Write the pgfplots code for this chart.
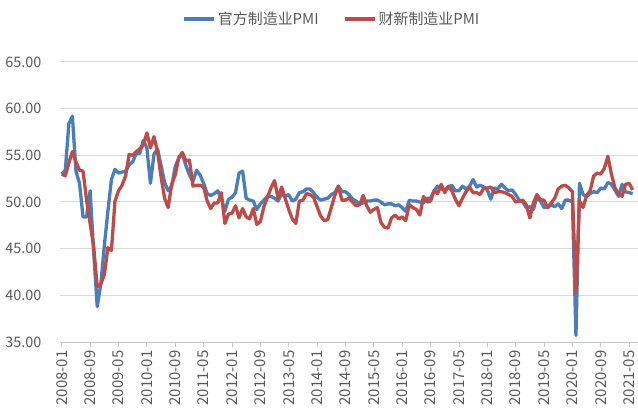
\documentclass[border=0pt]{standalone}
\usepackage{pgfplots}
\usepackage{pgfplotstable}
\pgfplotsset{compat=1.18}
\usepackage{fontspec}
\setmainfont{Noto Sans CJK SC}

\definecolor{offblue}{HTML}{4A7EBB}
\definecolor{cxred}{HTML}{BE4B48}
\definecolor{txtgray}{HTML}{595959}
\definecolor{gridgray}{HTML}{D9D9D9}

% monthly PMI, 2008-01 .. 2021-06
\pgfplotstableread{
off cx
53.0 53.0
53.4 52.8
58.4 54.2
59.2 55.4
53.3 54.3
52.0 53.4
48.4 53.3
48.4 50.2
51.2 47.7
44.6 45.2
38.8 40.9
41.2 41.2
45.3 42.2
49.0 45.1
52.4 44.8
53.5 50.1
53.1 51.2
53.2 51.8
53.3 52.8
54.0 55.1
54.3 55.0
55.2 55.4
55.2 55.7
56.6 56.1
55.8 57.4
52.0 55.8
55.1 57.0
55.7 55.4
53.9 52.7
52.1 50.4
51.2 49.4
51.7 51.9
53.8 52.9
54.7 54.8
55.2 55.3
53.9 54.4
52.9 54.5
52.2 51.7
53.4 51.8
52.9 51.8
52.0 51.6
50.9 50.1
50.7 49.3
50.9 49.9
51.2 49.9
50.4 51.0
49.0 47.7
50.3 48.7
50.5 48.8
51.0 49.6
53.1 48.3
53.3 49.3
50.4 48.4
50.2 48.2
50.1 49.3
49.2 47.6
49.8 47.9
50.2 49.5
50.6 50.5
50.6 51.5
50.4 52.3
50.1 50.4
50.9 51.6
50.6 50.4
50.8 49.2
50.1 48.2
50.3 47.7
51.0 50.1
51.1 50.2
51.4 50.9
51.4 50.8
51.0 50.5
50.5 49.5
50.2 48.5
50.3 48.0
50.4 48.1
50.8 49.4
51.0 50.7
51.7 51.7
51.1 50.2
51.1 50.2
50.8 50.4
50.3 50.0
50.1 49.6
49.8 49.7
49.9 50.7
50.1 49.6
50.1 48.9
50.2 49.2
50.2 49.4
50.0 47.8
49.7 47.3
49.8 47.2
49.8 48.3
49.6 48.6
49.7 48.2
49.4 48.4
49.0 48.0
50.2 49.7
50.1 49.4
50.1 49.2
50.0 48.6
49.9 50.6
50.4 50.0
50.4 50.1
51.2 51.2
51.7 50.9
51.4 51.9
51.3 51.0
51.6 51.7
51.8 51.2
51.2 50.3
51.2 49.6
51.7 50.4
51.4 51.1
51.7 51.6
52.4 51.0
51.6 51.0
51.8 50.8
51.6 51.5
51.3 51.5
50.3 51.6
51.5 51.0
51.4 51.1
51.9 51.1
51.5 51.0
51.2 50.8
51.3 50.6
50.8 50.0
50.2 50.1
50.0 50.2
49.4 49.7
49.5 48.3
49.2 49.9
50.5 50.8
50.1 50.2
49.4 50.2
49.4 49.4
49.7 49.9
49.5 50.4
49.8 51.4
49.3 51.7
50.2 51.8
50.2 51.5
50.0 51.1
35.7 40.3
52.0 50.1
50.8 49.4
50.6 50.7
50.9 51.2
51.1 52.8
51.0 53.1
51.5 53.0
51.4 53.6
52.1 54.9
51.9 53.0
51.3 51.5
50.6 50.9
51.9 50.6
51.1 51.9
51.0 52.0
50.9 51.3
}\pmi

\begin{document}
\begin{tikzpicture}
\useasboundingbox (-60bp,-75bp) rectangle (578bp,342bp);
\begin{axis}[
width=578bp,
height=280bp,
scale only axis,
xmin=-0.5, xmax=162.5,
ymin=35, ymax=65,
ytick={35,40,...,65},
xtick={0,8,...,160},
xticklabels={2008-01,2008-09,2009-05,2010-01,2010-09,2011-05,2012-01,2012-09,2013-05,2014-01,2014-09,2015-05,2016-01,2016-09,2017-05,2018-01,2018-09,2019-05,2020-01,2020-09,2021-05},
axis lines*=left,
axis line style={-},
y axis line style={draw=none},
x axis line style={draw=gridgray!80!gray, line width=0.8bp},
ymajorgrids,
grid style={draw=gridgray, line width=1bp},
xtick pos=bottom,
tick align=outside,
major tick length=5bp,
ytick style={draw=none},
xtick style={draw=gridgray!80!gray, line width=0.8bp},
/pgf/number format/fixed,
/pgf/number format/fixed zerofill,
/pgf/number format/precision=2,
/pgf/number format/assume math mode=true,
yticklabel style={font=\fontsize{14.5}{16}\selectfont, text=txtgray, xshift=-10bp},
xticklabel style={font=\fontsize{15}{16}\selectfont, text=txtgray, rotate=90, anchor=east},
legend columns=2,
legend style={at={(0.47,1.155)}, anchor=center, draw=none, fill=none,
  font=\fontsize{15}{17}\selectfont, text=txtgray,
  /tikz/every even column/.append style={column sep=22bp}},
legend image code/.code={\draw[#1, line width=4bp] (0bp,0bp) -- (30bp,0bp);},
]
\addplot[color=offblue, line width=3.3bp, line join=round] table[x expr=\coordindex, y=off]{\pmi};
\addlegendentry{官方制造业PMI}
\addplot[color=cxred, line width=3.3bp, line join=round] table[x expr=\coordindex, y=cx]{\pmi};
\addlegendentry{财新制造业PMI}
\end{axis}
\end{tikzpicture}
\end{document}
